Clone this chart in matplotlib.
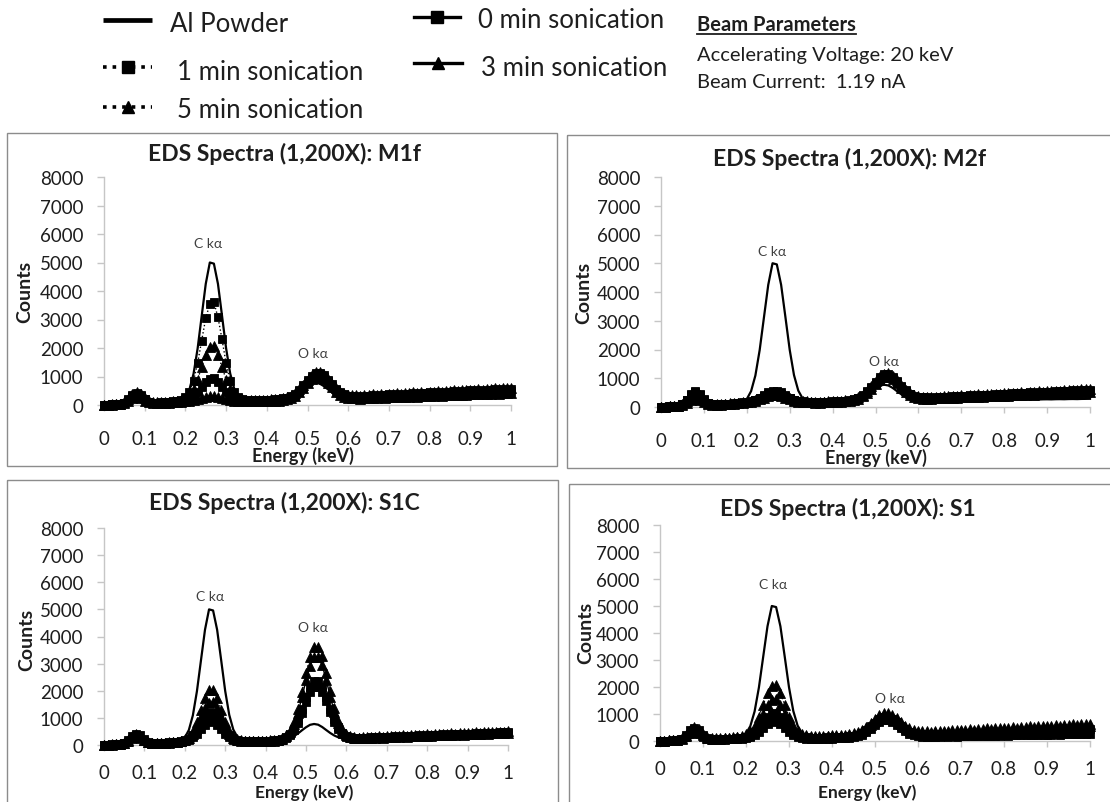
import matplotlib
matplotlib.use("Agg")
import matplotlib.pyplot as plt
from matplotlib.patches import Rectangle

plt.rcParams['font.family'] = ['Lato', 'DejaVu Sans']

# ---------------------------------------------------------------- data
# channel energies (keV), 10 eV channels
energy_kev = [
    0.00, 0.01, 0.02, 0.03, 0.04, 0.05, 0.06, 0.07, 0.08, 0.09,
    0.10, 0.11, 0.12, 0.13, 0.14, 0.15, 0.16, 0.17, 0.18, 0.19,
    0.20, 0.21, 0.22, 0.23, 0.24, 0.25, 0.26, 0.27, 0.28, 0.29,
    0.30, 0.31, 0.32, 0.33, 0.34, 0.35, 0.36, 0.37, 0.38, 0.39,
    0.40, 0.41, 0.42, 0.43, 0.44, 0.45, 0.46, 0.47, 0.48, 0.49,
    0.50, 0.51, 0.52, 0.53, 0.54, 0.55, 0.56, 0.57, 0.58, 0.59,
    0.60, 0.61, 0.62, 0.63, 0.64, 0.65, 0.66, 0.67, 0.68, 0.69,
    0.70, 0.71, 0.72, 0.73, 0.74, 0.75, 0.76, 0.77, 0.78, 0.79,
    0.80, 0.81, 0.82, 0.83, 0.84, 0.85, 0.86, 0.87, 0.88, 0.89,
    0.90, 0.91, 0.92, 0.93, 0.94, 0.95, 0.96, 0.97, 0.98, 0.99,
    1.00]

# reference spectrum of the aluminium powder (same in every panel)
al_powder = [
    0, 5, 10, 15, 25, 40, 70, 110, 130, 120,
    90, 65, 55, 55, 60, 65, 70, 80, 90, 155,
    275, 550, 1095, 1980, 3120, 4250, 5000, 4960, 4250, 3130,
    1990, 1110, 570, 300, 185, 140, 130, 130, 135, 140,
    145, 150, 155, 160, 182, 208, 253, 325, 423, 542,
    654, 744, 775, 749, 664, 552, 443, 350, 283, 248,
    227, 214, 216, 219, 217, 222, 225, 223, 228, 231,
    229, 234, 236, 233, 239, 242, 240, 245, 247, 244,
    250, 253, 251, 256, 258, 255, 261, 263, 260, 266,
    268, 265, 271, 273, 270, 276, 278, 275, 281, 283,
    285]

# ---- M1f
m1f_0min = [
    0, 10, 20, 25, 41, 86, 196, 349, 430, 359,
    216, 116, 81, 75, 80, 90, 100, 110, 120, 139,
    167, 214, 304, 443, 623, 801, 914, 930, 801, 623,
    443, 304, 219, 177, 159, 150, 148, 148, 150, 155,
    160, 168, 176, 184, 207, 236, 283, 363, 482, 635,
    805, 953, 1044, 1049, 966, 826, 665, 520, 409, 337,
    298, 281, 280, 265, 290, 276, 305, 291, 318, 300,
    331, 315, 340, 326, 355, 338, 366, 349, 377, 362,
    391, 372, 404, 385, 413, 398, 428, 409, 439, 420,
    452, 433, 463, 447, 476, 458, 487, 470, 499, 481,
    505]
m1f_1min = [
    0, 11, 22, 28, 43, 84, 181, 314, 386, 326,
    203, 118, 87, 84, 90, 101, 112, 123, 134, 184,
    274, 469, 851, 1462, 2262, 3049, 3549, 3600, 3080, 2300,
    1462, 851, 469, 285, 206, 168, 166, 166, 168, 174,
    179, 188, 197, 206, 231, 262, 313, 397, 524, 686,
    867, 1025, 1121, 1127, 1039, 891, 720, 566, 449, 373,
    331, 314, 322, 298, 331, 318, 345, 326, 361, 340,
    371, 352, 388, 364, 399, 381, 411, 392, 428, 404,
    441, 419, 452, 433, 468, 441, 482, 455, 493, 470,
    511, 483, 524, 497, 538, 510, 549, 528, 566, 541,
    575]
m1f_3min = [
    0, 8, 17, 21, 32, 63, 137, 238, 292, 246,
    153, 89, 66, 63, 67, 76, 84, 92, 101, 111,
    125, 140, 166, 201, 247, 293, 322, 330, 293, 247,
    201, 166, 144, 133, 128, 126, 124, 124, 126, 130,
    134, 141, 148, 155, 175, 203, 248, 325, 441, 590,
    755, 899, 986, 991, 910, 773, 615, 473, 364, 294,
    255, 237, 236, 225, 246, 238, 255, 247, 266, 253,
    275, 268, 286, 277, 295, 284, 306, 298, 316, 305,
    326, 315, 337, 328, 346, 337, 356, 348, 367, 356,
    378, 369, 388, 377, 398, 389, 407, 398, 418, 409,
    425]
m1f_5min = [
    0, 12, 24, 30, 47, 96, 212, 374, 460, 386,
    236, 132, 95, 90, 96, 108, 120, 132, 144, 177,
    233, 343, 556, 893, 1333, 1767, 2042, 2060, 1767, 1333,
    893, 556, 349, 245, 201, 180, 178, 178, 180, 186,
    192, 202, 211, 221, 246, 279, 330, 416, 544, 709,
    892, 1052, 1150, 1156, 1068, 917, 745, 590, 471, 395,
    353, 335, 340, 322, 355, 337, 369, 350, 384, 366,
    398, 379, 411, 393, 428, 408, 441, 422, 457, 437,
    470, 450, 487, 466, 499, 481, 513, 494, 529, 509,
    541, 523, 556, 538, 571, 552, 585, 566, 600, 582,
    612]

# ---- M2f
m2f_0min = [
    0, 11, 22, 28, 46, 100, 229, 410, 505, 421,
    251, 133, 90, 83, 88, 99, 110, 121, 132, 147,
    166, 191, 234, 296, 377, 457, 508, 508, 457, 377,
    296, 234, 196, 177, 169, 165, 163, 163, 165, 171,
    176, 185, 194, 202, 226, 257, 305, 385, 507, 662,
    835, 985, 1077, 1082, 999, 858, 695, 548, 436, 364,
    325, 308, 305, 296, 318, 312, 331, 325, 345, 338,
    360, 352, 373, 366, 386, 379, 398, 392, 411, 405,
    424, 418, 437, 431, 450, 444, 463, 458, 477, 470,
    489, 484, 503, 497, 515, 510, 529, 523, 542, 536,
    553]
m2f_1min = [
    0, 12, 24, 30, 49, 107, 245, 438, 540, 450,
    269, 143, 97, 90, 96, 108, 120, 132, 144, 160,
    182, 210, 259, 330, 423, 514, 572, 572, 514, 423,
    330, 259, 216, 194, 184, 180, 178, 178, 180, 186,
    192, 202, 211, 221, 246, 278, 329, 414, 541, 704,
    885, 1043, 1140, 1146, 1059, 910, 740, 587, 469, 394,
    352, 335, 333, 322, 348, 339, 361, 355, 377, 370,
    391, 384, 405, 400, 419, 413, 434, 427, 449, 441,
    462, 456, 477, 472, 490, 485, 505, 499, 519, 513,
    534, 528, 549, 543, 563, 558, 577, 571, 592, 586,
    605]
m2f_3min = [
    0, 11, 21, 26, 39, 71, 145, 247, 303, 258,
    166, 102, 81, 79, 84, 95, 105, 116, 126, 140,
    157, 177, 213, 263, 328, 392, 432, 432, 392, 328,
    263, 213, 183, 168, 161, 158, 155, 155, 158, 163,
    168, 176, 185, 193, 216, 245, 291, 370, 486, 636,
    802, 948, 1036, 1041, 961, 824, 668, 526, 418, 348,
    310, 293, 291, 284, 302, 296, 313, 308, 325, 319,
    337, 331, 350, 343, 362, 356, 374, 368, 387, 380,
    399, 393, 412, 405, 424, 418, 436, 430, 449, 443,
    461, 455, 474, 468, 486, 480, 499, 492, 511, 505,
    525]
m2f_5min = [
    0, 13, 25, 31, 50, 101, 223, 392, 483, 405,
    248, 138, 100, 94, 100, 113, 125, 138, 150, 167,
    186, 210, 253, 312, 388, 464, 511, 511, 464, 388,
    312, 253, 217, 199, 192, 188, 185, 185, 188, 194,
    200, 210, 220, 230, 256, 289, 340, 427, 555, 720,
    903, 1064, 1162, 1168, 1080, 930, 758, 602, 484, 408,
    367, 349, 348, 336, 363, 351, 378, 367, 393, 382,
    408, 397, 423, 413, 438, 428, 453, 443, 468, 458,
    483, 473, 498, 488, 513, 503, 528, 518, 543, 533,
    558, 548, 573, 564, 588, 579, 603, 594, 618, 609,
    630]

# ---- S1C
s1c_0min = [
    0, 9, 17, 21, 37, 81, 190, 342, 423, 351,
    207, 106, 71, 64, 68, 77, 85, 94, 102, 119,
    145, 190, 277, 409, 583, 754, 863, 880, 754, 583,
    409, 277, 195, 154, 136, 128, 126, 126, 128, 132,
    136, 143, 150, 156, 199, 257, 362, 547, 827, 1189,
    1591, 1942, 2152, 2156, 1953, 1609, 1215, 859, 586, 408,
    310, 262, 238, 229, 245, 238, 256, 247, 265, 258,
    276, 268, 286, 278, 296, 289, 307, 299, 317, 310,
    327, 320, 337, 331, 348, 340, 358, 351, 369, 362,
    379, 372, 389, 383, 400, 392, 410, 404, 421, 414,
    428]
s1c_1min = [
    0, 10, 19, 24, 35, 60, 120, 203, 248, 212,
    139, 89, 73, 71, 76, 86, 95, 105, 114, 136,
    169, 231, 351, 537, 780, 1020, 1172, 1190, 1020, 780,
    537, 351, 236, 179, 155, 143, 141, 141, 143, 147,
    152, 160, 167, 175, 221, 286, 402, 605, 913, 1312,
    1755, 2142, 2372, 2377, 2154, 1775, 1341, 949, 648, 453,
    345, 292, 266, 254, 275, 266, 287, 277, 298, 288,
    309, 300, 320, 312, 332, 323, 343, 335, 355, 346,
    366, 358, 378, 369, 389, 381, 400, 392, 412, 403,
    423, 415, 435, 426, 446, 438, 458, 449, 469, 461,
    478]
s1c_3min = [
    0, 9, 18, 23, 37, 79, 180, 321, 395, 330,
    198, 106, 73, 68, 72, 81, 90, 99, 108, 133,
    175, 260, 422, 679, 1015, 1346, 1556, 1580, 1346, 1015,
    679, 422, 264, 184, 151, 135, 133, 133, 135, 140,
    144, 151, 158, 166, 228, 316, 478, 762, 1195, 1756,
    2381, 2924, 3249, 3253, 2936, 2399, 1783, 1229, 803, 526,
    372, 294, 252, 243, 263, 254, 273, 265, 284, 276,
    295, 287, 306, 297, 317, 308, 327, 319, 338, 330,
    349, 341, 360, 351, 371, 362, 381, 373, 392, 384,
    403, 395, 414, 405, 425, 416, 435, 427, 446, 438,
    455]
s1c_5min = [
    0, 10, 20, 25, 38, 76, 163, 285, 350, 295,
    183, 106, 78, 75, 80, 90, 100, 110, 120, 151,
    205, 314, 526, 863, 1303, 1737, 2012, 2040, 1737, 1303,
    863, 526, 319, 215, 171, 150, 148, 148, 150, 155,
    160, 168, 176, 184, 254, 351, 531, 848, 1330, 1956,
    2650, 3255, 3617, 3622, 3268, 2671, 1986, 1368, 894, 585,
    413, 328, 281, 270, 293, 283, 306, 295, 317, 308,
    329, 319, 342, 331, 353, 343, 365, 356, 377, 367,
    389, 380, 401, 391, 413, 403, 425, 416, 437, 427,
    449, 440, 461, 452, 473, 463, 485, 476, 497, 488,
    503]

# ---- S1
s1_0min = [
    0, 6, 11, 14, 25, 61, 145, 265, 328, 271,
    157, 77, 47, 42, 45, 50, 56, 62, 67, 80,
    100, 139, 213, 328, 479, 627, 721, 735, 627, 479,
    328, 213, 142, 106, 91, 84, 83, 83, 84, 87,
    90, 94, 99, 103, 120, 141, 177, 239, 331, 452,
    586, 702, 773, 775, 709, 598, 469, 353, 264, 207,
    176, 161, 158, 149, 163, 156, 168, 160, 174, 166,
    178, 171, 185, 177, 191, 183, 196, 189, 202, 194,
    208, 201, 215, 207, 221, 213, 227, 219, 233, 226,
    239, 232, 246, 238, 252, 244, 259, 251, 265, 258,
    277]
s1_1min = [
    0, 8, 17, 21, 38, 90, 219, 398, 492, 406,
    235, 116, 72, 63, 67, 76, 84, 92, 101, 119,
    149, 202, 304, 464, 672, 878, 1008, 1020, 878, 672,
    464, 304, 206, 157, 136, 126, 124, 124, 126, 130,
    134, 141, 148, 155, 174, 199, 239, 306, 409, 539,
    684, 810, 887, 892, 821, 702, 564, 441, 345, 285,
    251, 236, 241, 230, 250, 242, 261, 249, 270, 262,
    281, 272, 290, 280, 301, 292, 311, 301, 321, 311,
    332, 322, 341, 332, 351, 343, 362, 352, 373, 364,
    383, 373, 393, 384, 403, 393, 413, 404, 421, 412,
    428]
s1_3min = [
    0, 11, 22, 27, 42, 85, 187, 329, 404, 339,
    209, 117, 86, 81, 86, 97, 108, 119, 130, 155,
    199, 282, 439, 687, 1012, 1331, 1534, 1550, 1331, 1012,
    687, 439, 287, 210, 177, 162, 160, 160, 162, 167,
    173, 181, 190, 199, 220, 248, 289, 361, 466, 602,
    752, 883, 964, 969, 897, 775, 634, 507, 410, 348,
    315, 300, 302, 291, 316, 304, 329, 318, 342, 331,
    355, 343, 368, 357, 381, 370, 394, 383, 407, 396,
    420, 409, 433, 423, 446, 436, 459, 448, 472, 461,
    485, 474, 498, 487, 511, 500, 524, 513, 537, 526,
    545]
s1_5min = [
    0, 13, 26, 32, 51, 106, 236, 418, 514, 430,
    262, 144, 103, 96, 102, 115, 128, 141, 154, 187,
    244, 355, 568, 905, 1345, 1779, 2054, 2070, 1779, 1345,
    905, 568, 361, 257, 213, 192, 189, 189, 192, 198,
    205, 215, 225, 236, 260, 289, 333, 409, 519, 662,
    818, 956, 1041, 1047, 973, 845, 700, 568, 468, 403,
    368, 354, 356, 343, 372, 358, 387, 374, 403, 389,
    418, 405, 433, 420, 449, 436, 464, 451, 480, 467,
    495, 482, 510, 497, 526, 513, 541, 528, 556, 544,
    572, 559, 587, 574, 603, 590, 618, 605, 633, 621,
    645]

series_labels = ['0 min sonication', '1 min sonication',
                 '3 min sonication', '5 min sonication']
x_ticks = [0, 0.1, 0.2, 0.3, 0.4, 0.5, 0.6, 0.7, 0.8, 0.9, 1]
x_tick_labels = ['0', '0.1', '0.2', '0.3', '0.4', '0.5', '0.6', '0.7', '0.8', '0.9', '1']
y_ticks = [0, 1000, 2000, 3000, 4000, 5000, 6000, 7000, 8000]

# ---------------------------------------------------------------- styling
W, H = 1110, 803
INK = '#1e1e1e'
AXIS_GREY = '#c6c6c6'
FRAME_GREY = '#8c8c8c'
LABEL_GREY = '#404040'

# (linestyle, marker, markersize) for 0, 1, 3, 5 min
series_styles = [('-', 's', 6.0), (':', 's', 6.0), ('-', '^', 7.0), (':', '^', 7.0)]

panels = [
    dict(title='EDS Spectra (1,200X): M1f',
         series=[m1f_0min, m1f_1min, m1f_3min, m1f_5min],
         plot_px=(104, 511, 178, 406), frame_px=(7, 134, 557, 467),
         title_px=(284, 154), xlabel_px=(303, 456), ylabel_px=(25, 292),
         xpad=14, xlabel_fs=13,
         c_text=(0.255, 5674), o_text=(0.513, 1833)),
    dict(title='EDS Spectra (1,200X): M2f',
         series=[m2f_0min, m2f_1min, m2f_3min, m2f_5min],
         plot_px=(661, 1090, 178, 408), frame_px=(567, 136, 1112, 469),
         title_px=(850, 159), xlabel_px=(876, 458), ylabel_px=(584, 293),
         xpad=14, xlabel_fs=13,
         c_text=(0.26, 5439), o_text=(0.52, 1614)),
    dict(title='EDS Spectra (1,200X): S1C',
         series=[s1c_0min, s1c_1min, s1c_3min, s1c_5min],
         plot_px=(104, 508, 529, 746), frame_px=(7, 481, 558, 812),
         title_px=(284, 503), xlabel_px=(304, 793), ylabel_px=(27, 640),
         xpad=9.5, xlabel_fs=12.5,
         c_text=(0.262, 5493), o_text=(0.516, 4350)),
    dict(title='EDS Spectra (1,200X): S1',
         series=[s1_0min, s1_1min, s1_3min, s1_5min],
         plot_px=(660, 1090, 526, 742), frame_px=(569, 485, 1112, 812),
         title_px=(848, 509), xlabel_px=(867, 793), ylabel_px=(586, 633),
         xpad=9.5, xlabel_fs=12.5,
         c_text=(0.262, 5805), o_text=(0.535, 1600)),
]

fig = plt.figure(figsize=(W / 100, H / 100), dpi=100)
fig.patch.set_facecolor('white')

# pixel-space layer for frames, titles and the legend block
layer = fig.add_axes([0, 0, 1, 1], zorder=0)
layer.set_xlim(0, W)
layer.set_ylim(H, 0)
layer.axis('off')

for p in panels:
    fx0, fy0, fx1, fy1 = p['frame_px']
    layer.add_patch(Rectangle((fx0, fy0), fx1 - fx0, fy1 - fy0, fill=False,
                              edgecolor=FRAME_GREY, lw=1.0))
    x0, x1, ytop, ybot = p['plot_px']
    ax = fig.add_axes([x0 / W, 1 - ybot / H, (x1 - x0) / W, (ybot - ytop) / H], zorder=2)
    ax.set_facecolor('none')

    ax.plot(energy_kev, al_powder, color='black', lw=1.6, clip_on=False, zorder=2)
    for vals, (ls, mk, ms) in zip(p['series'], series_styles):
        ax.plot(energy_kev, vals, linestyle=ls, color='black', lw=1.0,
                marker=mk, ms=ms, mfc='black', mec='black', mew=0.6,
                clip_on=False, zorder=3)

    ax.set_xlim(0, 1)
    ax.set_ylim(0, 8000)
    ax.set_xticks(x_ticks)
    ax.set_xticklabels(x_tick_labels)
    ax.set_yticks(y_ticks)
    for side in ('top', 'right'):
        ax.spines[side].set_visible(False)
    for side in ('left', 'bottom'):
        ax.spines[side].set_color(AXIS_GREY)
        ax.spines[side].set_linewidth(1.0)
    ax.tick_params(axis='y', direction='out', length=5, width=1, color=AXIS_GREY,
                   labelsize=13.5, labelcolor=INK, pad=10)
    ax.tick_params(axis='x', direction='out', length=4, width=1, color=AXIS_GREY,
                   labelsize=13.5, labelcolor=INK, pad=p['xpad'])

    ax.text(*p['c_text'], 'C k\u03b1', ha='center', va='center', fontsize=10,
            color=LABEL_GREY, family=['Lato', 'DejaVu Sans'])
    ax.text(*p['o_text'], 'O k\u03b1', ha='center', va='center', fontsize=10,
            color=LABEL_GREY, family=['Lato', 'DejaVu Sans'])

    layer.text(*p['title_px'], p['title'], ha='center', va='center',
               fontsize=16.5, fontweight='bold', color=INK)
    layer.text(*p['xlabel_px'], 'Energy (keV)', ha='center', va='center',
               fontsize=p['xlabel_fs'], fontweight='bold', color=INK)
    layer.text(*p['ylabel_px'], 'Counts', ha='center', va='center', rotation=90,
               fontsize=14, fontweight='bold', color=INK)

# ---------------------------------------------------------------- legend block
LEG_FS = 18.5


def swatch(x0, x1, y, ls, marker=None, ms=0, lw=2.6):
    xs = [x0, (x0 + x1) / 2, x1]
    if marker is None:
        layer.plot(xs, [y] * 3, linestyle=ls, color='black', lw=lw,
                   solid_capstyle='butt')
    else:
        layer.plot(xs, [y] * 3, linestyle=ls, color='black', lw=lw,
                   marker=marker, markevery=[1], ms=ms, mfc='black', mec='black')


swatch(103, 152, 21, '-', lw=3.4)
layer.text(170, 24, 'Al Powder', fontsize=LEG_FS, va='center', ha='left', color=INK)
swatch(103, 152, 68, ':', 's', 8, lw=2.6)
layer.text(177, 72, series_labels[1], fontsize=LEG_FS, va='center', ha='left', color=INK)
swatch(103, 152, 108, ':', '^', 9, lw=2.6)
layer.text(177, 110, series_labels[3], fontsize=LEG_FS, va='center', ha='left', color=INK)
swatch(414, 460, 18, '-', 's', 8, lw=2.4)
layer.text(478, 21, series_labels[0], fontsize=LEG_FS, va='center', ha='left', color=INK)
swatch(414, 462, 64, '-', '^', 9, lw=2.4)
layer.text(481, 68, series_labels[2], fontsize=LEG_FS, va='center', ha='left', color=INK)

beam = layer.text(697, 25, 'Beam Parameters', fontsize=14.5, fontweight='bold',
                  va='center', ha='left', color=INK)
layer.text(697, 55, 'Accelerating Voltage: 20 keV', fontsize=14.5,
           va='center', ha='left', color=INK)
layer.text(697, 82, 'Beam Current:  1.19 nA', fontsize=14.5,
           va='center', ha='left', color=INK)

fig.canvas.draw()
bb = beam.get_window_extent(renderer=fig.canvas.get_renderer())
layer.plot([bb.x0, bb.x1], [34.5, 34.5], color=INK, lw=1.3)

fig.savefig('out.png', dpi=100, facecolor='white')
